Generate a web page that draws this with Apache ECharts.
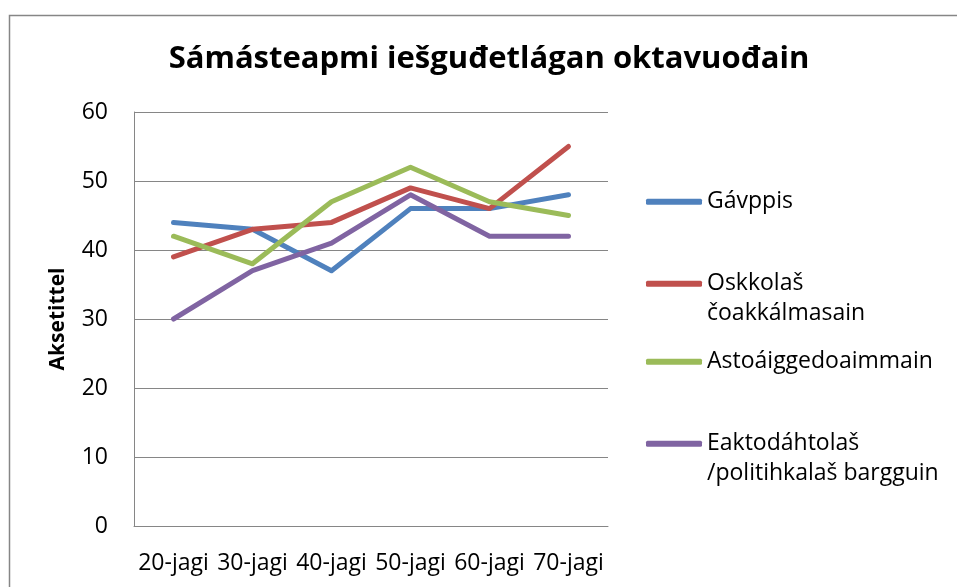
<!DOCTYPE html>
<html>
<head>
<meta charset="utf-8">
<title>Sámásteapmi</title>
<script src="https://cdn.jsdelivr.net/npm/echarts@6/dist/echarts.min.js"></script>
<style>
  html, body { margin: 0; padding: 0; background: #fff; }
  #main { width: 957px; height: 587px; }
</style>
</head>
<body>
<div id="main"></div>
<script>
// data
const categories = ['20-jagi', '30-jagi', '40-jagi', '50-jagi', '60-jagi', '70-jagi'];
const seriesNames = ['Gávppis', 'Oskkolaš\nčoakkálmasain', 'Astoáiggedoaimmain', 'Eaktodáhtolaš\n/politihkalaš bargguin'];
const gavppis = [44, 43, 37, 46, 46, 48];
const oskkolas = [39, 43, 44, 49, 46, 55];
const astoaigge = [42, 38, 47, 52, 47, 45];
const eaktodahtolas = [30, 37, 41, 48, 42, 42];
const yTicks = { min: 0, max: 60, interval: 10 };

const colors = ['#4F81BD', '#C0504D', '#9BBB59', '#8064A2'];
const values = [gavppis, oskkolas, astoaigge, eaktodahtolas];
const font = '"Open Sans", Lato, sans-serif';
const gray = '#868686';

const chart = echarts.init(document.getElementById('main'), null, { renderer: 'canvas' });

const series = values.map((data, i) => ({
  name: seriesNames[i],
  type: 'line',
  data: data,
  symbol: 'none',
  smooth: false,
  color: colors[i],
  lineStyle: { width: 5, color: colors[i], cap: 'round', join: 'round' }
}));

// one legend per entry so the uneven Excel spacing can be kept
const legendTops = [186.7, 238.7, 346.7, 398.7];
const legends = seriesNames.map((name, i) => ({
  data: [name],
  orient: 'vertical',
  left: 646,
  top: legendTops[i],
  padding: 0,
  icon: 'roundRect',
  itemWidth: 56,
  itemHeight: 6,
  // blank first line keeps the icon level with the first text line
  formatter: n => (n.indexOf('\n') >= 0 ? '\n' + n : n),
  textStyle: { fontFamily: font, fontSize: 23, color: '#000', lineHeight: 30 }
}));

const option = {
  animation: false,
  backgroundColor: '#fff',
  title: {
    text: 'Sámásteapmi iešguđetlágan oktavuođain',
    left: 484,
    textAlign: 'center',
    top: 39,
    textStyle: { fontFamily: font, fontSize: 31, fontWeight: 'bold', color: '#000' }
  },
  graphic: [{
    // chart area frame (right/bottom edges are cut off in the picture)
    type: 'rect',
    left: 7,
    top: 13,
    z: -10,
    shape: { width: 1200, height: 1000 },
    style: { fill: 'none', stroke: gray, lineWidth: 1.5 }
  }],
  legend: legends,
  grid: { left: 134, right: 349, top: 112, bottom: 61, containLabel: false },
  xAxis: {
    type: 'category',
    data: categories,
    boundaryGap: true,
    axisLine: { show: true, lineStyle: { color: gray, width: 1 } },
    axisTick: { show: false },
    axisLabel: { interval: 0, margin: 26, fontFamily: font, fontSize: 23, color: '#000' },
    splitLine: { show: false }
  },
  yAxis: {
    type: 'value',
    min: yTicks.min,
    max: yTicks.max,
    interval: yTicks.interval,
    name: 'Aksetittel',
    nameLocation: 'middle',
    nameGap: 65,
    nameRotate: 90,
    nameTextStyle: { fontFamily: font, fontSize: 21, fontWeight: 'bold', color: '#000' },
    axisLine: { show: true, lineStyle: { color: gray, width: 1 } },
    axisTick: { show: false },
    axisLabel: { margin: 26, fontFamily: font, fontSize: 23, color: '#000' },
    splitLine: { show: true, lineStyle: { color: gray, width: 1 } }
  },
  series: series
};

chart.setOption(option);
</script>
</body>
</html>
